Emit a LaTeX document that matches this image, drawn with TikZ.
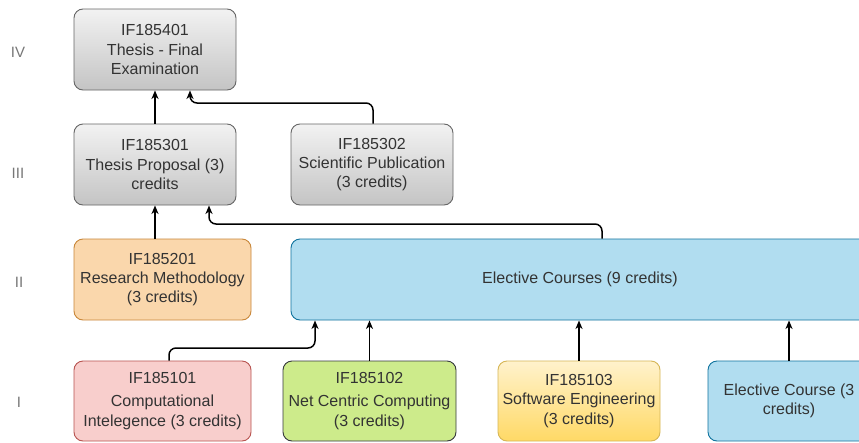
\documentclass[tikz,border=0pt]{standalone}
\usepackage{fontspec}
\setmainfont{Liberation Sans}
\usetikzlibrary{arrows.meta,calc}
\definecolor{txt}{HTML}{333333}
\definecolor{lblc}{HTML}{777777}
\definecolor{grayline}{HTML}{666666}
\definecolor{graytop}{HTML}{F2F2F2}
\definecolor{graybot}{HTML}{C4C4C4}
\definecolor{orfill}{HTML}{FAD7AC}
\definecolor{orline}{HTML}{C9873A}
\definecolor{blfill}{HTML}{B1DDF0}
\definecolor{blline}{HTML}{10739E}
\definecolor{rdfill}{HTML}{F8CECC}
\definecolor{rdline}{HTML}{B85450}
\definecolor{grfill}{HTML}{CDEB8B}
\definecolor{grline}{HTML}{36393D}
\definecolor{yltop}{HTML}{FFF2CC}
\definecolor{ylbot}{HTML}{FFD966}
\definecolor{ylline}{HTML}{D6B656}
\begin{document}
\begin{tikzpicture}[x=1pt,y=-1pt,
  box/.style={rectangle,rounded corners=9pt,draw,line width=0.9pt,align=center,
    text=txt,font=\fontsize{16}{19.2}\selectfont,inner sep=2pt,minimum height=81pt},
  graybox/.style={box,draw=grayline,top color=graytop,bottom color=graybot},
  orbox/.style={box,draw=orline,fill=orfill},
  blbox/.style={box,draw=blline,fill=blfill},
  rdbox/.style={box,draw=rdline,fill=rdfill},
  grbox/.style={box,draw=grline,fill=grfill},
  ylbox/.style={box,draw=ylline,top color=yltop,bottom color=ylbot},
  lbl/.style={text=lblc,font=\fontsize{15}{18}\selectfont},
  arr/.style={-{Stealth[length=8.5pt,width=7pt,inset=2.5pt]},line width=1.5pt,black,rounded corners=7pt}
]
\useasboundingbox (0,0) rectangle (859,442);
\fill[white] (0,0) rectangle (859,442);
\clip (0,0) rectangle (859,442);

% level labels
\node[lbl] (l4) at (18,52) {IV};
\node[lbl] (l3) at (18,173) {III};
\node[lbl] (l2) at (19,282) {II};
\node[lbl] (l1) at (19,402) {I};

% level IV
\node[graybox,minimum width=162pt] (iv) at (155,49.5) {IF185401\\Thesis - Final\\Examination};
% level III
\node[graybox,minimum width=162pt] (t1) at (155,164.5) {IF185301\\Thesis Proposal (3)\\credits};
\node[graybox,minimum width=162pt] (t2) at (372,164.5) {IF185302\\Scientific Publication\\(3 credits)};
% level II
\node[orbox,minimum width=177pt] (rm) at (162.5,279.5) {IF185201\\Research Methodology\\(3 credits)};
\node[blbox,minimum width=578pt] (el) at (580,279.5) {Elective Courses (9 credits)};
% level I
\node[rdbox,minimum width=177pt,minimum height=80pt] (c1) at (162.5,401) {IF185101\\[4pt]Computational\\Intelegence (3 credits)};
\node[grbox,minimum width=173pt,minimum height=80pt] (c2) at (369.5,401) {IF185102\\[4pt]Net Centric Computing\\(3 credits)};
\node[ylbox,minimum width=162pt,minimum height=80pt] (c3) at (579,401) {IF185103\\Software Engineering\\(3 credits)};
\node[blbox,minimum width=162pt,minimum height=80pt] (c4) at (789,401) {Elective Course (3\\credits)};

% connectors
\draw[arr] (t1.north) -- (iv.south);
\coordinate (b1) at (190,103);
\draw[arr] ([xshift=1pt]t2.north) |- (b1) -- (b1 |- iv.south);

\draw[arr] (rm.north -| t1.south) -- (t1.south);
\coordinate (b2) at (209,224);
\draw[arr] ([xshift=22pt]el.north) |- (b2) -- (b2 |- t1.south);

\coordinate (b3) at (315,348);
\draw[arr] ([xshift=6.5pt]c1.north) |- (b3) -- (b3 |- el.south);
\draw[arr] (c2.north) -- (c2.north |- el.south);
\draw[arr] (c3.north) -- (c3.north |- el.south);
\draw[arr] (c4.north) -- (c4.north |- el.south);
\end{tikzpicture}
\end{document}
